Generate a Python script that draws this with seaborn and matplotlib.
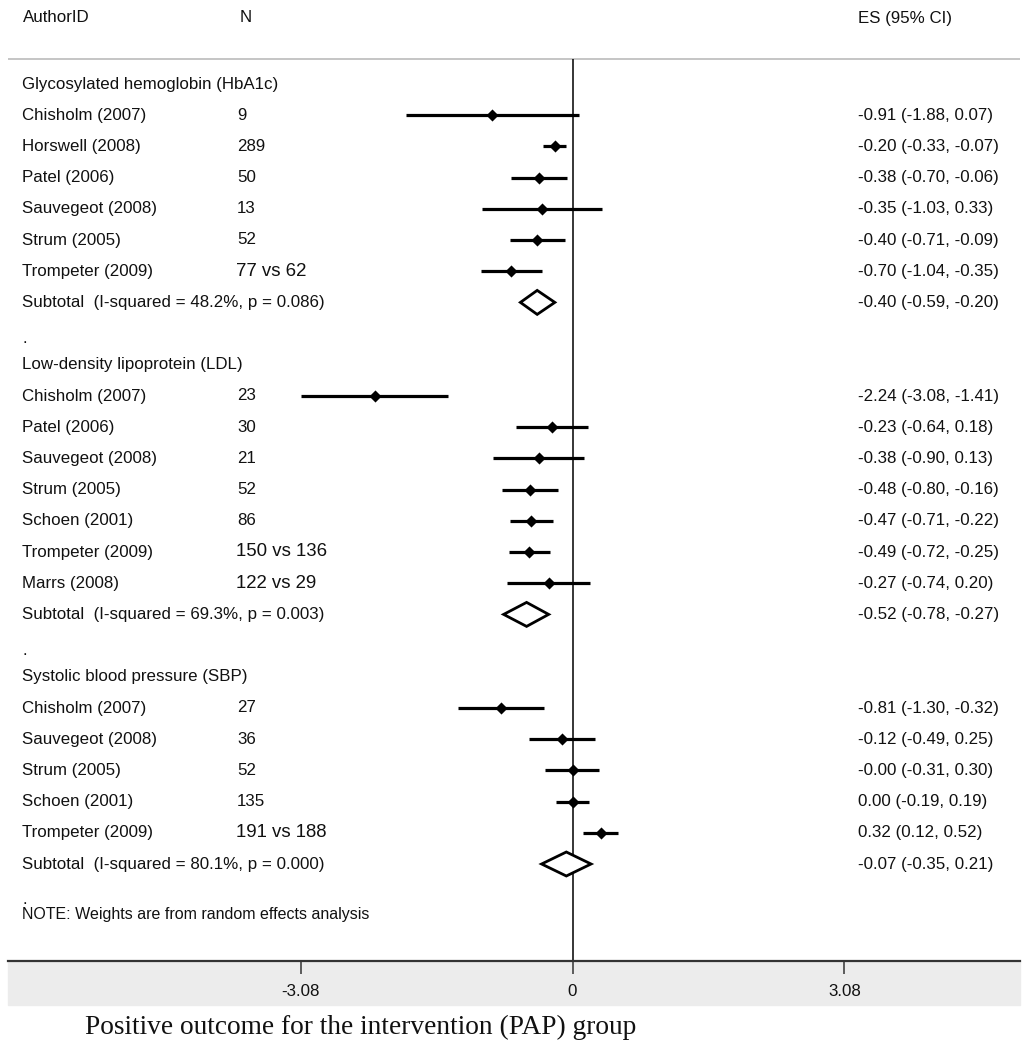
import seaborn as sns
import matplotlib.pyplot as plt
import matplotlib.transforms as mtransforms
from matplotlib.patches import Rectangle
import pandas as pd

sns.set_theme(style="white")
plt.rcParams['font.family'] = ['Liberation Sans', 'DejaVu Sans']

# --- data ---
groups = ["Glycosylated hemoglobin (HbA1c)",
          "Low-density lipoprotein (LDL)",
          "Systolic blood pressure (SBP)"]

hba1c_study = ["Chisholm (2007)", "Horswell (2008)", "Patel (2006)",
               "Sauvegeot (2008)", "Strum (2005)", "Trompeter (2009)"]
hba1c_n = ["9", "289", "50", "13", "52", "77 vs 62"]
hba1c_es = [-0.91, -0.20, -0.38, -0.35, -0.40, -0.70]
hba1c_lo = [-1.88, -0.33, -0.70, -1.03, -0.71, -1.04]
hba1c_hi = [0.07, -0.07, -0.06, 0.33, -0.09, -0.35]

ldl_study = ["Chisholm (2007)", "Patel (2006)", "Sauvegeot (2008)", "Strum (2005)",
             "Schoen (2001)", "Trompeter (2009)", "Marrs (2008)"]
ldl_n = ["23", "30", "21", "52", "86", "150 vs 136", "122 vs 29"]
ldl_es = [-2.24, -0.23, -0.38, -0.48, -0.47, -0.49, -0.27]
ldl_lo = [-3.08, -0.64, -0.90, -0.80, -0.71, -0.72, -0.74]
ldl_hi = [-1.41, 0.18, 0.13, -0.16, -0.22, -0.25, 0.20]

sbp_study = ["Chisholm (2007)", "Sauvegeot (2008)", "Strum (2005)",
             "Schoen (2001)", "Trompeter (2009)"]
sbp_n = ["27", "36", "52", "135", "191 vs 188"]
sbp_es = [-0.81, -0.12, -0.00, 0.00, 0.32]
sbp_lo = [-1.30, -0.49, -0.31, -0.19, 0.12]
sbp_hi = [-0.32, 0.25, 0.30, 0.19, 0.52]

sub_i2 = ["48.2%", "69.3%", "80.1%"]
sub_p = ["0.086", "0.003", "0.000"]
sub_es = [-0.40, -0.52, -0.07]
sub_lo = [-0.59, -0.78, -0.35]
sub_hi = [-0.20, -0.27, 0.21]

xticks = [-3.08, 0, 3.08]
xtick_labels = ["-3.08", "0", "3.08"]

# --- build the row table ---
study_sets = [
    (hba1c_study, hba1c_n, hba1c_es, hba1c_lo, hba1c_hi),
    (ldl_study, ldl_n, ldl_es, ldl_lo, ldl_hi),
    (sbp_study, sbp_n, sbp_es, sbp_lo, sbp_hi),
]
rows = []
heads = []
subs = []
r = 0
for g, (st, nn, es, lo, hi) in enumerate(study_sets):
    heads.append((r, groups[g]))
    r += 1
    for i in range(len(st)):
        rows.append(dict(row=r, study=st[i], n=nn[i], es=es[i], lo=lo[i], hi=hi[i]))
        r += 1
    subs.append(dict(row=r, i2=sub_i2[g], p=sub_p[g], es=sub_es[g], lo=sub_lo[g], hi=sub_hi[g]))
    r += 1
    heads.append((r + 0.15, "."))
    r += 1
df = pd.DataFrame(rows)
sdf = pd.DataFrame(subs)

# --- layout (pixel based) ---
W, H = 1028, 1050
x0_px, unit_px = 572.5, 88.3
row0_px, pitch = 84.0, 31.2


def prow(py):
    return (py - row0_px) / pitch


fig = plt.figure(figsize=(W / 100, H / 100), dpi=100)
fig.patch.set_facecolor("white")
ax = fig.add_axes([8 / W, (H - 961) / H, 1012 / W, 961 / H])
ax.set_xlim((8 - x0_px) / unit_px, (1020 - x0_px) / unit_px)
ax.set_ylim(prow(961), prow(0))
ax.patch.set_alpha(0)

# grey band under the axis (kept behind the axes)
fig.patches.append(Rectangle((8 / W, (H - 1005) / H), 1012 / W, 44 / H,
                             transform=fig.transFigure, color="#ececec", zorder=-5))

# header rule + null line
ax.hlines(prow(58.5), *ax.get_xlim(), color="#c0c0c0", lw=1.3)
ax.vlines(0, prow(59), prow(961), color="black", lw=1.1)

# study CIs and points
ax.hlines(df["row"], df["lo"], df["hi"], color="black", lw=2.3)
sns.scatterplot(data=df, x="es", y="row", marker="D", s=38, color="black",
                edgecolor="black", linewidth=0, ax=ax, legend=False, zorder=3)

# subtotal diamonds
hh = 12 / pitch
for _, s in sdf.iterrows():
    ax.fill([s["lo"], s["es"], s["hi"], s["es"], s["lo"]],
            [s["row"], s["row"] - hh, s["row"], s["row"] + hh, s["row"]],
            facecolor="white", edgecolor="black", lw=2.0, zorder=3)

# text columns
tr = mtransforms.blended_transform_factory(fig.transFigure, ax.transData)
fs = 12.2
col_id, col_n, col_es = 22.5 / W, 237 / W, 858 / W
tc = "#111111"

ax.text(col_id, prow(18), "AuthorID", transform=tr, fontsize=fs, va="center", color=tc)
ax.text(240 / W, prow(18), "N", transform=tr, fontsize=fs, va="center", color=tc)
ax.text(col_es, prow(18), "ES (95% CI)", transform=tr, fontsize=fs, va="center", color=tc)

for rr, txt in heads:
    ax.text(col_id, rr, txt, transform=tr, fontsize=fs, va="center", color=tc)

for _, d in df.iterrows():
    ax.text(col_id, d["row"], d["study"], transform=tr, fontsize=fs, va="center", color=tc)
    big = "vs" in d["n"]
    ax.text(col_n + (-1 / W if big else 0), d["row"], d["n"], transform=tr,
            fontsize=fs + 1.2 if big else fs, va="center", color=tc)
    ax.text(col_es, d["row"], f"{d['es']:.2f} ({d['lo']:.2f}, {d['hi']:.2f})",
            transform=tr, fontsize=fs, va="center", color=tc)

for _, s in sdf.iterrows():
    ax.text(col_id, s["row"], f"Subtotal  (I-squared = {s['i2']}, p = {s['p']})",
            transform=tr, fontsize=fs, va="center", color=tc)
    ax.text(col_es, s["row"], f"{s['es']:.2f} ({s['lo']:.2f}, {s['hi']:.2f})",
            transform=tr, fontsize=fs, va="center", color=tc)

ax.text(col_id, prow(914), "NOTE: Weights are from random effects analysis",
        transform=tr, fontsize=fs - 0.7, va="center", color=tc)

# axis styling
for side in ["top", "left", "right"]:
    ax.spines[side].set_visible(False)
ax.spines["bottom"].set_color("#333333")
ax.spines["bottom"].set_linewidth(1.6)
ax.set_yticks([])
ax.set_xticks(xticks)
ax.set_xticklabels(xtick_labels, fontsize=fs)
ax.tick_params(axis="x", bottom=True, direction="out", length=9.5, width=1.1,
               color="#333333", pad=7, labelcolor="#111111")
ax.set_xlabel("")
ax.set_ylabel("")

fig.text(85 / W, (H - 1027) / H, "Positive outcome for the intervention (PAP) group",
         family="Liberation Serif", fontsize=19.7, va="center", color="#111111")

plt.savefig("out.png", dpi=100)
